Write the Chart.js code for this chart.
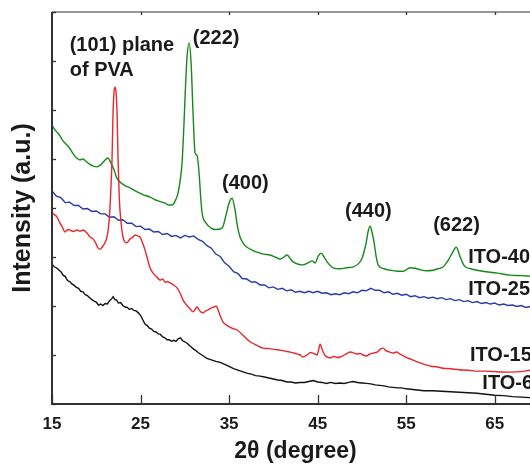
<!DOCTYPE html>
<html>
<head>
<meta charset="utf-8">
<script src="https://cdn.jsdelivr.net/npm/chart.js@4.4.0/dist/chart.umd.min.js"></script>
<style>
  html, body { margin: 0; padding: 0; background: #fff; overflow: hidden; }
  #wrap { width: 560px; height: 465px; }
</style>
</head>
<body>
<div id="wrap"><canvas id="xrd"></canvas></div>
<script>
// 2θ ticks and y grid (arbitrary units)
const xTicks = [15, 25, 35, 45, 55, 65];
const yTicks = [0, 1, 2, 3, 4, 5, 6, 7, 8];

// [2θ, intensity]
const ito60 = [[15.0,2.86],[15.25,2.80],[15.5,2.78],[15.75,2.74],[16.0,2.70],[16.25,2.63],[16.5,2.60],[16.75,2.52],[17.0,2.50],[17.25,2.45],[17.5,2.42],[17.75,2.38],[18.0,2.36],[18.25,2.30],[18.5,2.29],[18.75,2.23],[19.0,2.21],[19.25,2.17],[19.5,2.13],[19.75,2.10],[20.0,2.08],[20.25,2.02],[20.5,2.04],[20.75,2.01],[21.0,2.05],[21.25,2.04],[21.5,2.11],[21.75,2.15],[21.9,2.19],[22.1,2.13],[22.3,2.12],[22.5,2.06],[22.75,2.07],[23.0,2.01],[23.25,1.98],[23.5,1.97],[23.75,1.93],[24.0,1.95],[24.25,1.91],[24.5,1.90],[24.75,1.86],[25.0,1.81],[25.25,1.72],[25.5,1.63],[25.75,1.60],[26.0,1.55],[26.25,1.53],[26.5,1.48],[26.75,1.47],[27.0,1.43],[27.25,1.42],[27.5,1.37],[27.75,1.35],[28.0,1.31],[28.25,1.31],[28.5,1.28],[28.75,1.30],[29.0,1.28],[29.25,1.33],[29.5,1.35],[29.75,1.29],[30.0,1.27],[30.25,1.24],[30.5,1.20],[30.75,1.16],[31.0,1.12],[31.25,1.09],[31.5,1.05],[31.75,1.02],[32.0,0.99],[32.5,0.93],[33.0,0.90],[33.5,0.87],[34.0,0.85],[34.5,0.81],[35.0,0.77],[35.5,0.72],[36.0,0.69],[36.5,0.66],[37.0,0.63],[37.5,0.61],[38.0,0.58],[38.5,0.57],[39.0,0.55],[39.5,0.53],[40.0,0.51],[40.5,0.49],[41.0,0.48],[41.5,0.45],[42.0,0.45],[42.5,0.43],[43.0,0.44],[43.5,0.44],[44.0,0.46],[44.5,0.48],[45.0,0.45],[45.5,0.44],[46.0,0.42],[46.5,0.44],[47.0,0.42],[47.5,0.43],[48.0,0.42],[48.5,0.44],[49.0,0.46],[49.5,0.44],[50.0,0.43],[50.5,0.42],[51.0,0.41],[51.5,0.39],[52.0,0.38],[52.5,0.37],[53.0,0.35],[53.5,0.34],[54.0,0.33],[54.5,0.33],[55.0,0.31],[55.5,0.30],[56.0,0.29],[56.5,0.28],[57.0,0.27],[58.0,0.27],[59.0,0.26],[60.0,0.25],[61.0,0.24],[62.0,0.23],[63.0,0.22],[64.0,0.20],[65.0,0.18],[66.0,0.17],[67.0,0.15],[68.0,0.14],[69.0,0.13],[70.0,0.12]];

const ito150 = [[15.0,3.90],[15.3,3.86],[15.56,3.82],[15.9,3.69],[16.2,3.60],[16.47,3.51],[16.8,3.56],[17.03,3.55],[17.4,3.52],[17.82,3.55],[18.2,3.53],[18.5,3.55],[18.9,3.50],[19.29,3.41],[19.63,3.37],[19.9,3.30],[20.2,3.18],[20.45,3.16],[20.65,3.20],[20.95,3.28],[21.21,3.41],[21.44,3.71],[21.6,4.2],[21.78,5.0],[21.89,5.9],[22.0,6.35],[22.12,6.47],[22.24,6.35],[22.34,6.0],[22.46,5.0],[22.6,4.2],[22.8,3.70],[23.02,3.41],[23.25,3.30],[23.47,3.29],[23.81,3.37],[24.1,3.40],[24.38,3.45],[24.65,3.43],[24.94,3.41],[25.2,3.30],[25.51,3.14],[25.8,2.95],[26.07,2.78],[26.5,2.65],[26.8,2.60],[27.2,2.53],[27.5,2.55],[27.8,2.48],[28.0,2.50],[28.33,2.47],[28.7,2.43],[29.12,2.37],[29.5,2.25],[29.8,2.12],[30.2,2.02],[30.6,1.94],[30.93,1.88],[31.2,1.94],[31.38,1.98],[31.6,1.92],[31.8,1.88],[32.06,1.86],[32.35,1.90],[32.63,1.92],[33.0,1.96],[33.3,1.98],[33.53,2.0],[33.8,1.90],[34.0,1.80],[34.32,1.67],[34.8,1.60],[35.3,1.55],[35.9,1.51],[36.6,1.40],[37.37,1.27],[38.1,1.20],[38.84,1.14],[39.5,1.13],[40.2,1.11],[40.76,1.10],[41.3,1.08],[41.89,1.06],[42.5,1.03],[43.02,1.0],[43.36,0.96],[43.8,1.0],[44.2,1.05],[44.38,1.04],[44.7,1.02],[44.94,1.0],[45.1,1.10],[45.28,1.22],[45.45,1.15],[45.62,1.06],[45.9,0.98],[46.2,0.95],[46.41,0.94],[46.8,0.97],[47.2,0.95],[47.54,0.96],[48.0,1.00],[48.4,1.04],[48.67,1.06],[49.0,1.05],[49.4,1.02],[49.8,1.03],[50.14,1.0],[50.5,0.98],[50.9,1.02],[51.3,1.04],[51.72,1.06],[52.1,1.12],[52.4,1.14],[52.7,1.09],[53.0,1.07],[53.3,1.05],[53.53,1.04],[53.9,1.06],[54.3,1.02],[54.7,0.98],[55.11,0.94],[55.6,0.91],[56.1,0.87],[56.58,0.84],[57.2,0.80],[57.8,0.77],[58.4,0.76],[59.18,0.73],[60.0,0.72],[61.0,0.70],[62.0,0.69],[63.02,0.67],[64.0,0.67],[65.0,0.66],[66.75,0.65],[68.0,0.66],[69.0,0.69],[70.0,0.70]];

const ito250 = [[15.0,4.35],[15.5,4.24],[16.0,4.21],[16.5,4.11],[17.0,4.12],[17.5,4.05],[18.0,4.05],[18.5,3.98],[19.0,3.99],[19.5,3.93],[20.0,3.94],[20.5,3.88],[21.0,3.88],[21.5,3.81],[22.0,3.82],[22.5,3.75],[23.0,3.76],[23.5,3.69],[24.0,3.69],[24.5,3.62],[25.0,3.63],[25.5,3.56],[26.0,3.57],[26.5,3.51],[27.0,3.52],[27.5,3.46],[28.0,3.48],[28.5,3.42],[29.0,3.44],[29.5,3.39],[30.0,3.44],[30.5,3.41],[31.0,3.43],[31.5,3.36],[32.0,3.32],[32.5,3.23],[33.0,3.18],[33.5,3.06],[34.0,3.01],[34.5,2.88],[35.0,2.81],[35.5,2.70],[36.0,2.66],[36.5,2.56],[37.0,2.55],[37.5,2.49],[38.0,2.49],[38.5,2.43],[39.0,2.43],[39.5,2.37],[40.0,2.39],[40.5,2.34],[41.0,2.36],[41.5,2.31],[42.0,2.33],[42.5,2.28],[43.0,2.30],[43.5,2.27],[44.0,2.30],[44.5,2.27],[45.0,2.30],[45.5,2.26],[46.0,2.27],[46.5,2.23],[47.0,2.25],[47.5,2.23],[48.0,2.27],[48.5,2.25],[49.0,2.29],[49.5,2.27],[50.0,2.32],[50.5,2.31],[51.0,2.36],[51.5,2.32],[52.0,2.32],[52.5,2.27],[53.0,2.29],[53.5,2.24],[54.0,2.26],[54.5,2.22],[55.0,2.24],[55.5,2.19],[56.0,2.21],[56.5,2.17],[57.0,2.19],[57.5,2.16],[58.0,2.18],[58.5,2.15],[59.0,2.17],[59.5,2.13],[60.0,2.15],[60.5,2.11],[61.0,2.13],[61.5,2.09],[62.0,2.11],[62.5,2.07],[63.0,2.09],[63.5,2.05],[64.0,2.07],[64.5,2.04],[65.0,2.06],[65.5,2.02],[66.0,2.04],[66.5,2.01],[67.0,2.02],[67.5,1.99],[68.0,2.01],[68.5,1.97],[69.0,1.99],[69.5,1.96],[70.0,1.97]];

const ito400 = [[15.0,5.69],[15.4,5.58],[15.8,5.50],[16.2,5.38],[16.6,5.30],[17.0,5.22],[17.4,5.10],[17.8,5.02],[18.16,4.98],[18.5,5.00],[18.8,4.96],[19.2,4.90],[19.6,4.86],[20.08,4.84],[20.5,4.88],[20.9,4.96],[21.33,5.02],[21.6,4.94],[22.0,4.78],[22.3,4.62],[22.68,4.53],[23.2,4.46],[23.81,4.41],[24.5,4.34],[25.2,4.28],[26.07,4.22],[26.9,4.15],[27.77,4.10],[28.2,4.06],[28.56,4.06],[28.9,4.14],[29.24,4.31],[29.5,4.60],[29.69,4.92],[29.9,5.70],[30.03,6.27],[30.25,7.08],[30.48,7.37],[30.71,6.96],[30.93,5.94],[31.16,5.12],[31.38,5.08],[31.61,4.71],[31.8,4.20],[31.95,3.90],[32.4,3.69],[32.97,3.59],[33.5,3.56],[34.21,3.59],[34.66,3.86],[35.0,4.10],[35.34,4.20],[35.67,3.96],[35.95,3.62],[36.24,3.41],[36.6,3.28],[37.03,3.20],[37.6,3.14],[38.16,3.10],[38.9,3.06],[39.63,3.04],[40.2,3.00],[40.76,2.96],[41.2,3.00],[41.55,3.04],[41.9,2.97],[42.23,2.90],[43.36,2.84],[43.9,2.88],[44.38,2.92],[44.72,2.88],[45.06,3.02],[45.4,3.08],[45.73,3.00],[46.07,2.90],[46.75,2.78],[47.54,2.76],[48.3,2.78],[49.01,2.80],[49.6,2.86],[50.03,2.98],[50.3,3.15],[50.48,3.29],[50.7,3.52],[50.93,3.63],[51.15,3.50],[51.38,3.29],[51.6,3.02],[51.84,2.84],[52.5,2.76],[53.19,2.73],[54.0,2.71],[54.66,2.71],[55.45,2.78],[56.0,2.77],[56.58,2.74],[57.3,2.72],[58.05,2.73],[58.6,2.76],[59.18,2.80],[59.7,2.92],[60.2,3.08],[60.65,3.20],[61.1,3.00],[61.4,2.87],[61.67,2.80],[62.3,2.76],[63.02,2.73],[64.0,2.70],[65.28,2.67],[66.75,2.63],[68.0,2.62],[69.01,2.61],[70.0,2.60]];

// text placed in data coordinates: [text, 2θ, intensity]
const peakLabels = [
  ['(101) plane', 17.0, 7.31],
  ['of PVA', 17.0, 6.80],
  ['(222)', 30.9, 7.45],
  ['(400)', 34.2, 4.51],
  ['(440)', 48.1, 3.92],
  ['(622)', 58.05, 3.65]
];
const sampleLabels = [
  ['ITO-400', 62.0, 2.98],
  ['ITO-250', 62.0, 2.33],
  ['ITO-150', 62.2, 1.00],
  ['ITO-60', 63.6, 0.42]
];

const FONT = '"Liberation Sans", Arial, Helvetica, sans-serif';

const frameAndText = {
  id: 'frameAndText',
  afterDatasetsDraw(chart) {
    const { ctx, chartArea: a, scales: { x, y } } = chart;
    ctx.save();
    ctx.strokeStyle = '#333';
    // frame
    ctx.lineWidth = 2;
    ctx.beginPath();
    ctx.moveTo(a.left, a.top); ctx.lineTo(a.left, a.bottom); ctx.lineTo(a.right, a.bottom);
    ctx.stroke();
    ctx.lineWidth = 1.2;
    ctx.beginPath();
    ctx.moveTo(a.left, a.top); ctx.lineTo(a.right, a.top); ctx.lineTo(a.right, a.bottom);
    ctx.stroke();
    // inward ticks
    ctx.lineWidth = 1.3;
    x.ticks.forEach(t => {
      const px = Math.round(x.getPixelForValue(t.value)) + 0.5;
      ctx.beginPath();
      ctx.moveTo(px, a.bottom); ctx.lineTo(px, a.bottom - 9);
      ctx.moveTo(px, a.top); ctx.lineTo(px, a.top + 3);
      ctx.stroke();
    });
    y.ticks.forEach(t => {
      const py = Math.round(y.getPixelForValue(t.value)) + 0.5;
      ctx.beginPath();
      ctx.moveTo(a.left, py); ctx.lineTo(a.left + 4, py);
      ctx.stroke();
    });
    // annotations
    ctx.fillStyle = '#1a1a1a';
    ctx.font = 'bold 20px ' + FONT;
    ctx.textAlign = 'left';
    ctx.textBaseline = 'middle';
    peakLabels.concat(sampleLabels).forEach(([txt, vx, vy]) => {
      ctx.fillText(txt, x.getPixelForValue(vx), y.getPixelForValue(vy));
    });
    ctx.restore();
  }
};

const toPts = arr => arr.map(([x, y]) => ({ x, y }));

new Chart(document.getElementById('xrd'), {
  type: 'line',
  data: {
    datasets: [
      { label: 'ITO-60', data: toPts(ito60), borderColor: '#111111' },
      { label: 'ITO-150', data: toPts(ito150), borderColor: '#e8262b', cubicInterpolationMode: 'monotone' },
      { label: 'ITO-250', data: toPts(ito250), borderColor: '#2b3aa6' },
      { label: 'ITO-400', data: toPts(ito400), borderColor: '#16891a', cubicInterpolationMode: 'monotone' }
    ]
  },
  options: {
    responsive: true,
    maintainAspectRatio: false,
    animation: false,
    devicePixelRatio: 1,
    layout: { padding: { top: 12, right: 21, left: 0, bottom: 0 } },
    elements: { point: { radius: 0 }, line: { borderWidth: 1.4, tension: 0 } },
    plugins: { legend: { display: false }, tooltip: { enabled: false } },
    scales: {
      x: {
        type: 'linear',
        min: 15,
        max: 70,
        afterBuildTicks: s => { s.ticks = xTicks.map(v => ({ value: v })); },
        afterFit: s => { s.height = 61; },
        grid: { display: false, drawTicks: false },
        border: { display: false },
        ticks: { color: '#1a1a1a', padding: 10, maxRotation: 0, autoSkip: false, font: { family: FONT, size: 17, weight: 'bold' } },
        title: { display: true, text: '2θ (degree)', color: '#1a1a1a', padding: 0, font: { family: FONT, size: 23, weight: 'bold' } }
      },
      y: {
        type: 'linear',
        min: 0,
        max: 8,
        afterBuildTicks: s => { s.ticks = yTicks.map(v => ({ value: v })); },
        afterFit: s => { s.width = 52; },
        grid: { display: false, drawTicks: false },
        border: { display: false },
        ticks: { display: false },
        title: { display: true, text: 'Intensity (a.u.)', color: '#1a1a1a', padding: { top: 8, bottom: 0 }, font: { family: FONT, size: 25, weight: 'bold' } }
      }
    }
  },
  plugins: [frameAndText]
});
</script>
</body>
</html>
